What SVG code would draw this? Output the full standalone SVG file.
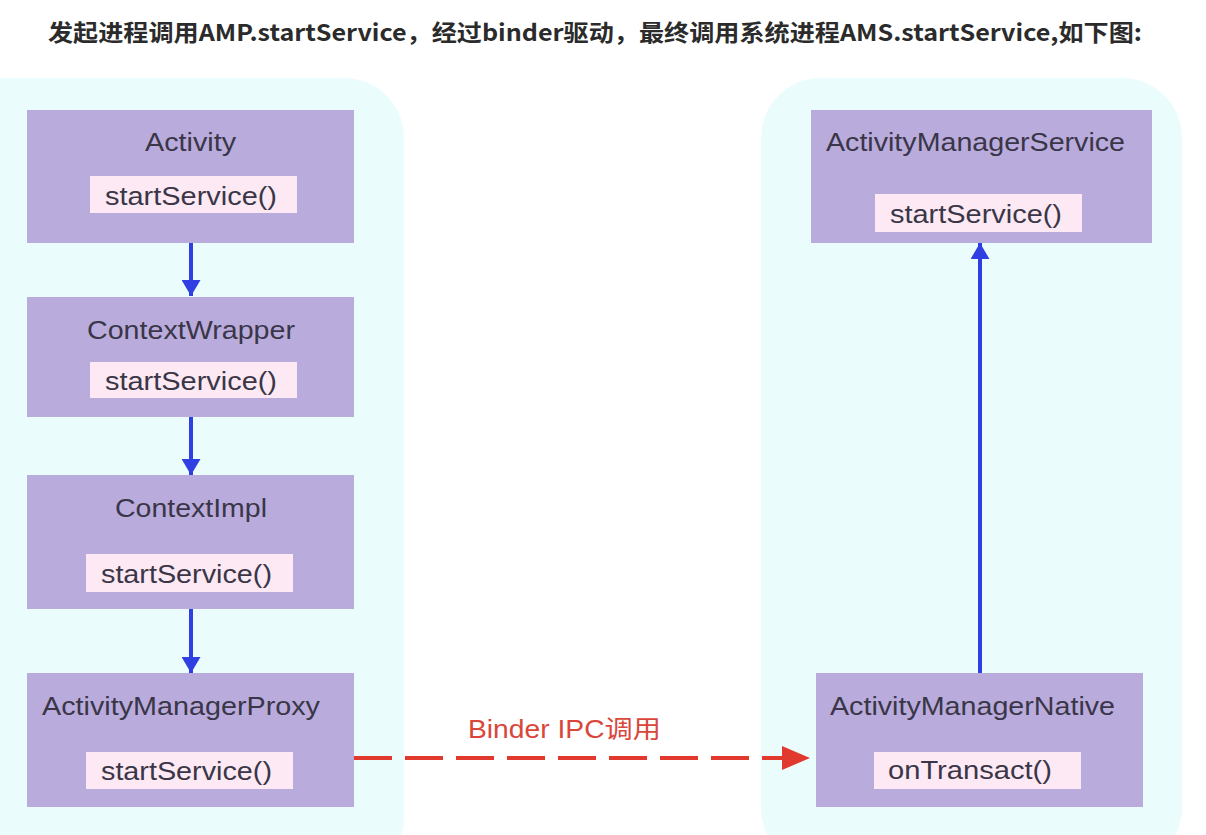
<svg xmlns="http://www.w3.org/2000/svg" width="1206" height="835" viewBox="0 0 1206 835">
<style>
.title{font-family:"Noto Sans CJK SC","Noto Sans",sans-serif;font-weight:bold;font-size:23px;fill:#2b2b2b}
.panel{fill:#ebfcfd}
.node{fill:#b9acdd}
.inner{fill:#fce9f3}
.name{font-family:"Liberation Sans",Arial,sans-serif;font-size:26px;fill:#3a3648}
.lbl{font-family:"Liberation Sans","Noto Sans CJK SC",sans-serif;font-size:25px;fill:#d9473a}
.blue{stroke:#2f3fe2;stroke-width:4;fill:none}
.red{stroke:#e2392e;stroke-width:4;fill:none;stroke-dasharray:38 13}
</style>
<defs>
<marker id="bh" viewBox="0 0 16 19" refX="16" refY="9.5" markerWidth="16" markerHeight="19" markerUnits="userSpaceOnUse" orient="auto">
<path d="M0,0 L16,9.5 L0,19 Z" fill="#2f3fe2"/>
</marker>
<marker id="rh" viewBox="0 0 28 24" refX="28" refY="12" markerWidth="28" markerHeight="24" markerUnits="userSpaceOnUse" orient="auto">
<path d="M0,0 L28,12 L0,24 Z" fill="#e2392e"/>
</marker>
</defs>
<rect width="1206" height="835" fill="#ffffff"/>
<text class="title" x="48" y="41" textLength="1094" lengthAdjust="spacingAndGlyphs">发起进程调用AMP.startService，经过binder驱动，最终调用系统进程AMS.startService,如下图:</text>
<rect class="panel" x="-60" y="78" width="464" height="800" rx="60"/>
<rect class="panel" x="761" y="78" width="421" height="790" rx="60"/>
<g id="activity">
<rect class="node" x="27" y="110" width="327" height="133"/>
<rect class="inner" x="90" y="176" width="207" height="37"/>
<text class="name" x="145" y="151" textLength="91" lengthAdjust="spacingAndGlyphs">Activity</text>
<text class="name" x="105" y="205" textLength="172" lengthAdjust="spacingAndGlyphs">startService()</text>
</g>
<g id="contextwrapper">
<rect class="node" x="27" y="297" width="327" height="120"/>
<rect class="inner" x="90" y="362" width="207" height="36"/>
<text class="name" x="87" y="339" textLength="208" lengthAdjust="spacingAndGlyphs">ContextWrapper</text>
<text class="name" x="105" y="390" textLength="172" lengthAdjust="spacingAndGlyphs">startService()</text>
</g>
<g id="contextimpl">
<rect class="node" x="27" y="475" width="327" height="134"/>
<rect class="inner" x="86" y="554" width="207" height="38"/>
<text class="name" x="115" y="517" textLength="152" lengthAdjust="spacingAndGlyphs">ContextImpl</text>
<text class="name" x="101" y="583" textLength="171" lengthAdjust="spacingAndGlyphs">startService()</text>
</g>
<g id="amp">
<rect class="node" x="27" y="673" width="327" height="134"/>
<rect class="inner" x="86" y="752" width="207" height="37"/>
<text class="name" x="42" y="715" textLength="278" lengthAdjust="spacingAndGlyphs">ActivityManagerProxy</text>
<text class="name" x="101" y="780" textLength="171" lengthAdjust="spacingAndGlyphs">startService()</text>
</g>
<g id="ams">
<rect class="node" x="811" y="110" width="341" height="133"/>
<rect class="inner" x="875" y="194" width="207" height="38"/>
<text class="name" x="826" y="151" textLength="299" lengthAdjust="spacingAndGlyphs">ActivityManagerService</text>
<text class="name" x="890" y="223" textLength="172" lengthAdjust="spacingAndGlyphs">startService()</text>
</g>
<g id="amn">
<rect class="node" x="816" y="673" width="327" height="134"/>
<rect class="inner" x="874" y="752" width="207" height="37"/>
<text class="name" x="830" y="715" textLength="285" lengthAdjust="spacingAndGlyphs">ActivityManagerNative</text>
<text class="name" x="888" y="779" textLength="164" lengthAdjust="spacingAndGlyphs">onTransact()</text>
</g>
<g id="connectors">
<line class="blue" x1="191" y1="243" x2="191" y2="296" marker-end="url(#bh)"/>
<line class="blue" x1="191" y1="417" x2="191" y2="475" marker-end="url(#bh)"/>
<line class="blue" x1="191" y1="609" x2="191" y2="673" marker-end="url(#bh)"/>
<line class="blue" x1="980" y1="673" x2="980" y2="243" marker-end="url(#bh)"/>
<line class="red" x1="354" y1="758" x2="810" y2="758" marker-end="url(#rh)"/>
<text class="lbl" x="468" y="738" textLength="193" lengthAdjust="spacingAndGlyphs">Binder IPC调用</text>
</g>
</svg>
